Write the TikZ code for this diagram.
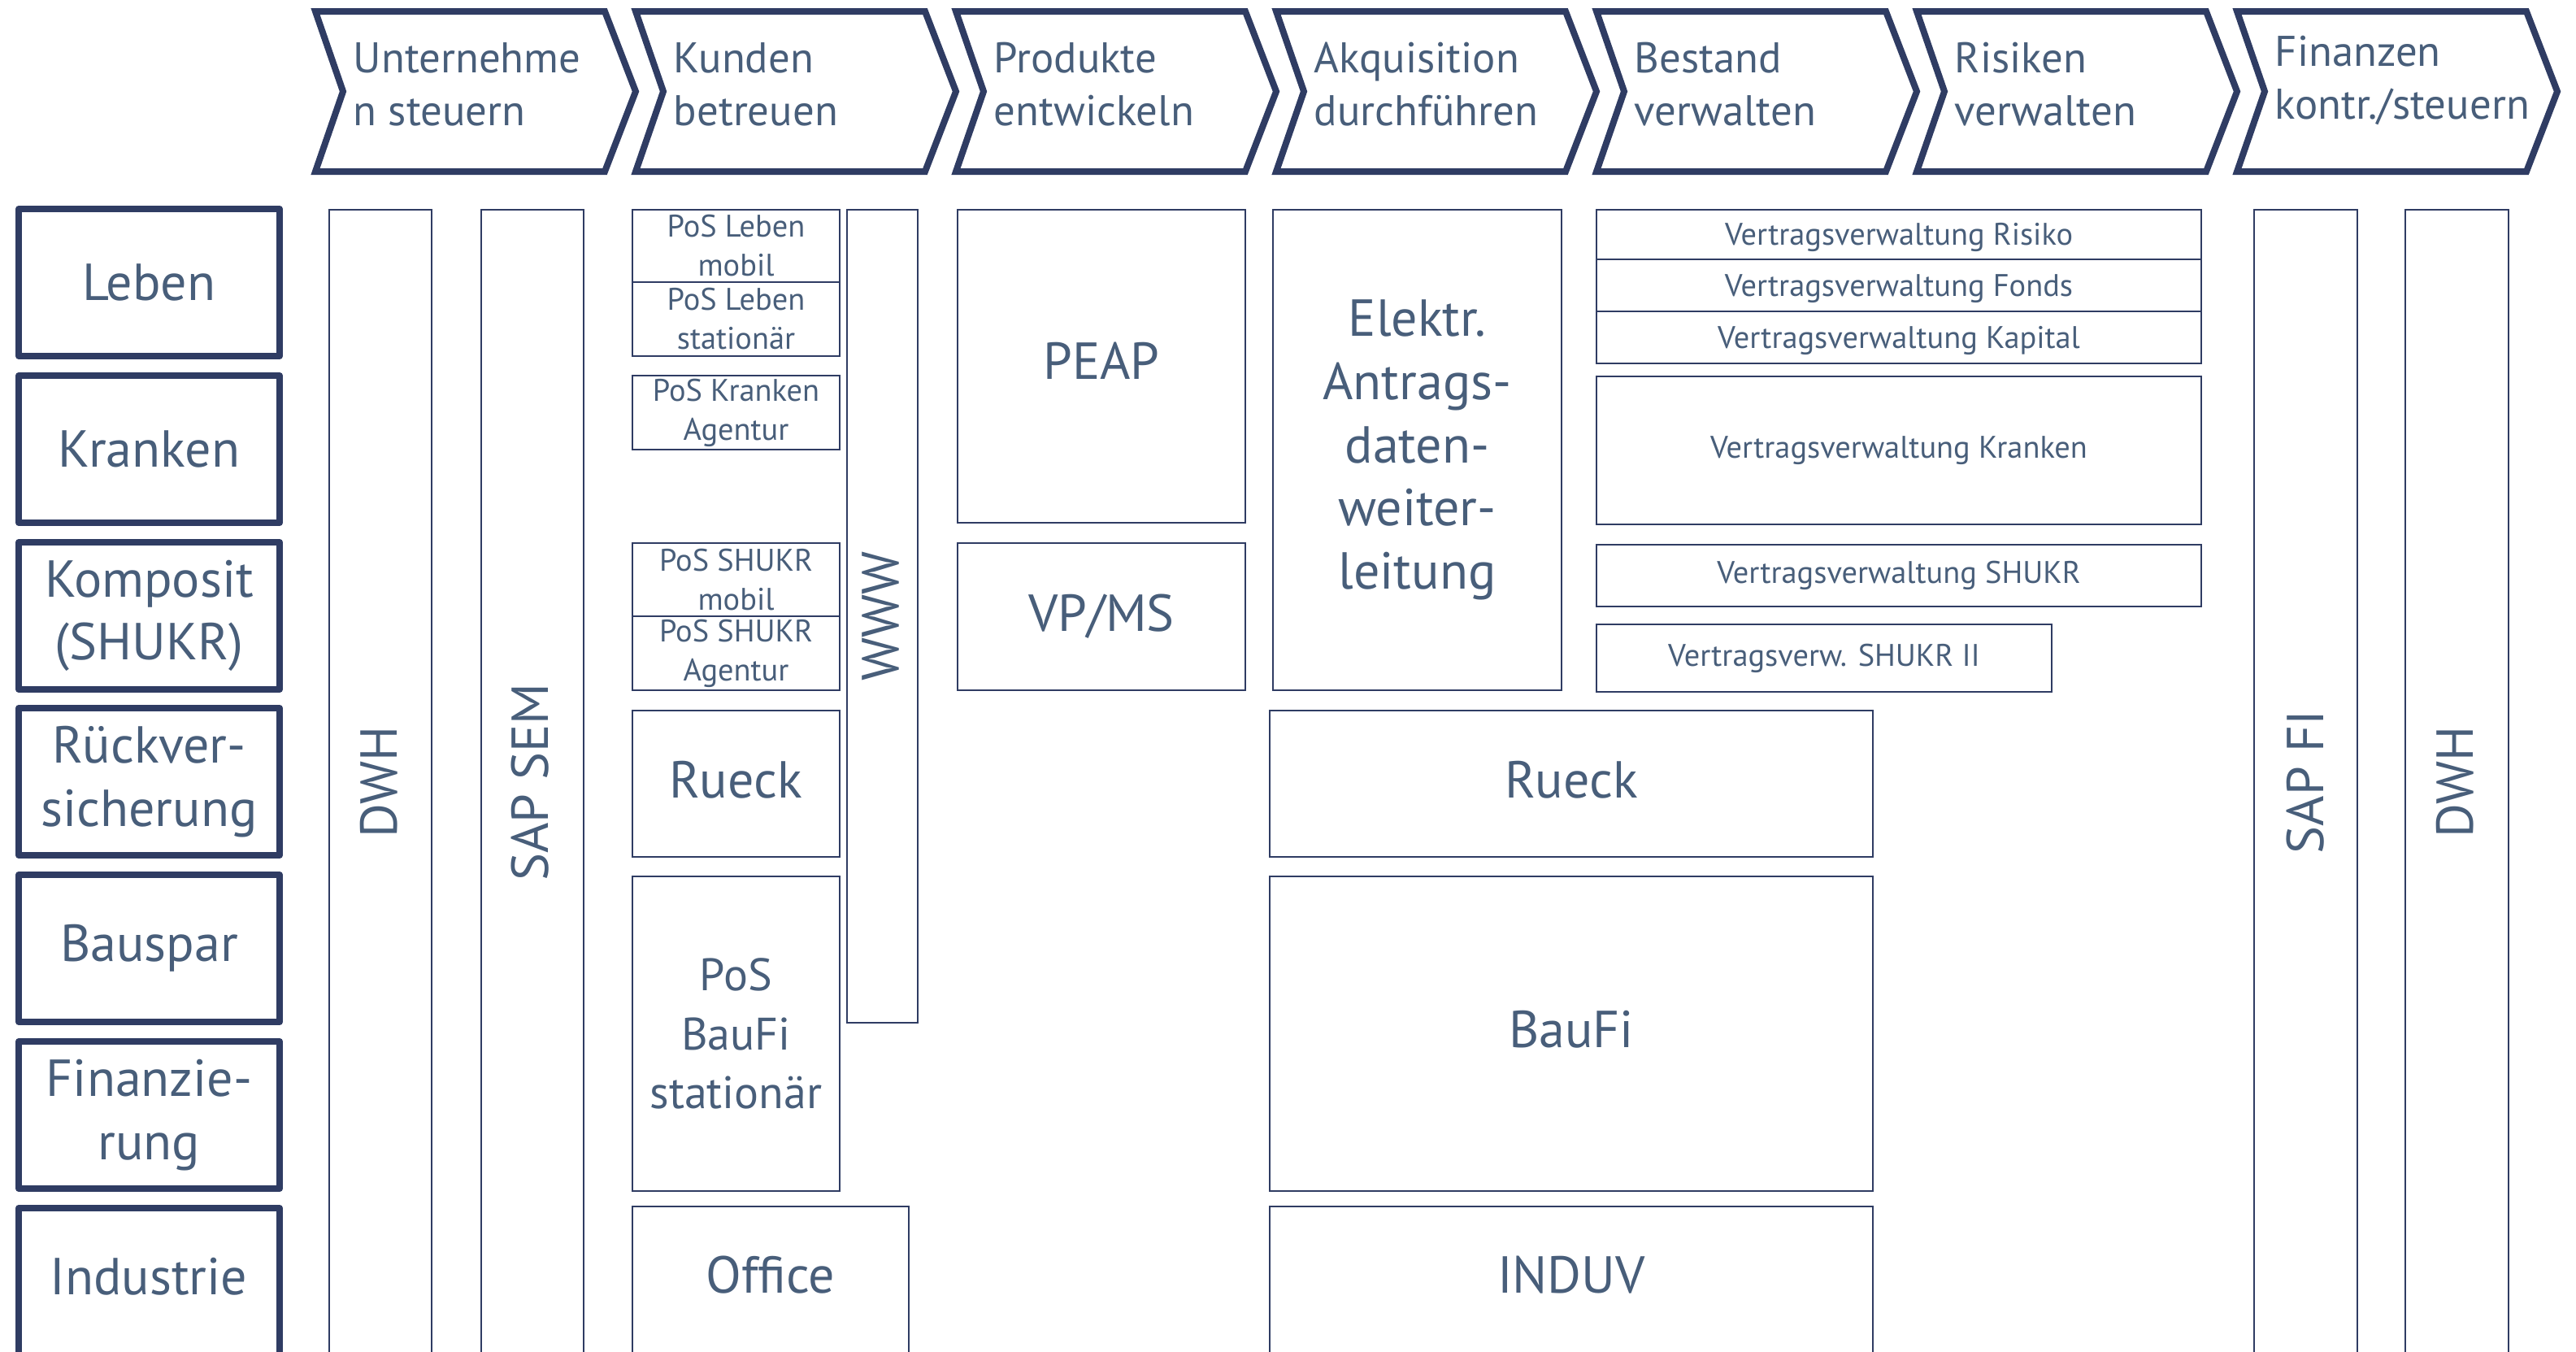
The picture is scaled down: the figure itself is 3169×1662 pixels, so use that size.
\documentclass[tikz,border=0pt]{standalone}
\usepackage{fontspec}
\setmainfont{PT Sans}
\definecolor{lc}{RGB}{47,60,99}
\definecolor{tc}{RGB}{72,94,122}
\newcommand\bigf{\fontsize{16}{19.4}\selectfont}
\newcommand\midf{\fontsize{14}{18.2}\selectfont}
\newcommand\smallf{\fontsize{9.6}{12}\selectfont}
\newcommand\chevf{\fontsize{13.2}{16.25}\selectfont}
\newcommand\sysbox[6]{%
 \pgfmathsetmacro\sbw{(#4-#2)/4}%
 \pgfmathsetmacro\sbh{(#5-#3)/4}%
 \node[#6, minimum width=\sbw pt, minimum height=\sbh pt] (#1) at ({(#2+#4)/2},{(#3+#5)/2})}
\tikzset{
 sysb/.style={draw=lc, line width=0.6pt, inner sep=0pt, outer sep=0pt, text=tc, align=center, font=\smallf},
 sysbig/.style={sysb, font=\bigf},
 rowb/.style={draw=lc, line width=2pt, line join=round, inner sep=0pt, outer sep=0pt, align=center, text=tc, font=\bigf},
 chevp/.style={draw=lc, line width=2pt, line join=miter},
 chevt/.style={anchor=west, align=left, text=tc, font=\chevf, inner sep=0pt},
 lbl/.style={text=tc, inner sep=0pt, align=center, font=\bigf}
}
\begin{document}
\begin{tikzpicture}[x=0.25pt, y=-0.25pt]
\useasboundingbox (0,0) rectangle (3169,1662);
\clip (0,0) rectangle (3169,1662);
% chevrons
\foreach \L in {388,782,1176,1570,1964,2358,2752}{
 \draw[chevp] (\L,14) -- ++(356,0) -- ++(38,98.5) -- ++(-38,98.5) -- ++(-356,0) -- ++(34,-98.5) -- cycle;
}
\node[chevt] (ch1) at (434,104) {Unternehme\\n steuern};
\node[chevt] (ch2) at (828,104) {Kunden\\betreuen};
\node[chevt] (ch3) at (1222,104) {Produkte\\entwickeln};
\node[chevt] (ch4) at (1616,104) {Akquisition\\durchführen};
\node[chevt] (ch5) at (2010,104) {Bestand\\verwalten};
\node[chevt] (ch6) at (2404,104) {Risiken\\verwalten};
\node[chevt] (ch7) at (2798,99) {Finanzen\\kontr./steuern};
% row labels
\sysbox{r1}{23}{257}{344}{438}{rowb}{Leben};
\sysbox{r2}{23}{462}{344}{643}{rowb}{Kranken};
\sysbox{r3}{23}{667}{344}{848}{rowb}{Komposit\\(SHUKR)};
\sysbox{r4}{23}{871}{344}{1052}{rowb}{Rückver-\\sicherung};
\sysbox{r5}{23}{1076}{344}{1257}{rowb}{Bauspar};
\sysbox{r6}{23}{1281}{344}{1462}{rowb}{Finanzie-\\rung};
\sysbox{r7}{23}{1486}{344}{1720}{rowb}{};
\node[lbl] (r7t) at (183,1570) {Industrie};
% tall columns
\sysbox{dwhL}{405}{258}{531}{1720}{sysb}{};
\node[lbl, rotate=90] (dwhLt) at (466,962) {DWH};
\sysbox{sem}{592}{258}{718}{1720}{sysb}{};
\node[lbl, rotate=90] (semt) at (652,962) {SAP SEM};
\sysbox{fi}{2773}{258}{2900}{1720}{sysb}{};
\node[lbl, rotate=90] (fit) at (2836,962) {SAP FI};
\sysbox{dwhR}{2959}{258}{3086}{1720}{sysb}{};
\node[lbl, rotate=90] (dwhRt) at (3020,962) {DWH};
% Kunden betreuen
\sysbox{plm}{778}{258}{1033}{347}{sysb}{PoS Leben\\mobil};
\sysbox{pls}{778}{347}{1033}{438}{sysb}{PoS Leben\\stationär};
\sysbox{pka}{778}{462}{1033}{553}{sysb}{PoS Kranken\\Agentur};
\sysbox{www}{1042}{258}{1129}{1258}{sysb}{};
\node[lbl, rotate=90] (wwwt) at (1083,758) {WWW};
\sysbox{psm}{778}{668}{1033}{758}{sysb}{PoS SHUKR\\mobil};
\sysbox{psa}{778}{758}{1033}{849}{sysb}{PoS SHUKR\\Agentur};
\sysbox{rk1}{778}{874}{1033}{1054}{sysb}{};
\node[lbl] (rk1t) at (905,959) {Rueck};
\sysbox{pbf}{778}{1078}{1033}{1465}{sysb, font=\midf}{PoS\\BauFi\\stationär};
\sysbox{off}{778}{1484}{1118}{1720}{sysb}{};
\node[lbl] (offt) at (948,1568) {Office};
% Produkte entwickeln
\sysbox{peap}{1178}{258}{1532}{643}{sysb}{};
\node[lbl] (peapt) at (1355,444) {PEAP};
\sysbox{vpms}{1178}{668}{1532}{849}{sysbig}{VP/MS};
% Akquisition
\sysbox{ead}{1566}{258}{1921}{849}{sysbig}{Elektr.\\Antrags-\\daten-\\weiter-\\leitung};
\sysbox{rk2}{1562}{874}{2304}{1054}{sysb}{};
\node[lbl] (rk2t) at (1933,959) {Rueck};
\sysbox{bauf}{1562}{1078}{2304}{1465}{sysb}{};
\node[lbl] (baut) at (1933,1266) {BauFi};
\sysbox{ind}{1562}{1484}{2304}{1720}{sysb}{};
\node[lbl] (indt) at (1933,1568) {INDUV};
% Bestand verwalten
\sysbox{vvr}{1964}{258}{2708}{319}{sysb}{};
\node[lbl, font=\smallf] (vvrt) at (2336,292) {Vertragsverwaltung Risiko};
\sysbox{vvf}{1964}{319}{2708}{383}{sysb}{};
\node[lbl, font=\smallf] (vvft) at (2336,355) {Vertragsverwaltung Fonds};
\sysbox{vvk}{1964}{383}{2708}{447}{sysb}{};
\node[lbl, font=\smallf] (vvkt) at (2336,419) {Vertragsverwaltung Kapital};
\sysbox{vvkr}{1964}{463}{2708}{645}{sysb}{Vertragsverwaltung Kranken};
\sysbox{vvs}{1964}{670}{2708}{746}{sysb}{Vertragsverwaltung SHUKR};
\sysbox{vvs2}{1964}{768}{2524}{851}{sysb}{Vertragsverw. SHUKR II};
\end{tikzpicture}
\end{document}
